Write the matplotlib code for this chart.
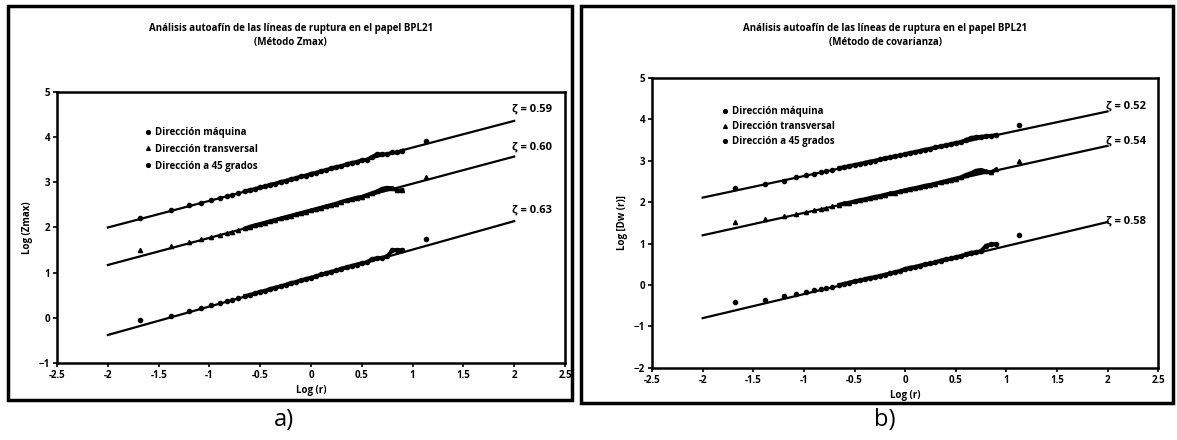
import matplotlib
matplotlib.use("Agg")
import matplotlib.pyplot as plt
from matplotlib.patches import Rectangle

plt.rcParams['font.family'] = ['Open Sans', 'DejaVu Sans']
plt.rcParams['font.weight'] = 'bold'

# valores de log(r) comunes a las dos graficas
log_r = [-1.68, -1.38, -1.20, -1.08, -0.98, -0.90, -0.83, -0.78, -0.72,
         -0.65, -0.60, -0.55, -0.50, -0.45, -0.40, -0.35, -0.30, -0.25,
         -0.20, -0.15, -0.10, -0.05, 0.00, 0.05, 0.10, 0.15, 0.20, 0.25,
         0.30, 0.35, 0.40, 0.45, 0.50, 0.55, 0.60, 0.65, 0.70, 0.75,
         0.80, 0.85, 0.90, 1.13]

# a) metodo Zmax
zmax_maquina = [2.22, 2.38, 2.49, 2.55, 2.61, 2.66, 2.70, 2.72, 2.77,
                2.80, 2.83, 2.85, 2.89, 2.91, 2.95, 2.97, 3.01, 3.03,
                3.07, 3.09, 3.13, 3.15, 3.19, 3.21, 3.25, 3.27, 3.31, 3.34,
                3.36, 3.40, 3.43, 3.45, 3.49, 3.50, 3.56, 3.62, 3.62, 3.62,
                3.66, 3.66, 3.70, 3.92]
zmax_transversal = [1.50, 1.58, 1.67, 1.74, 1.79, 1.84, 1.88, 1.91, 1.94,
                    1.98, 2.02, 2.05, 2.08, 2.11, 2.14, 2.17, 2.20, 2.23,
                    2.26, 2.29, 2.32, 2.35, 2.38, 2.41, 2.44, 2.47, 2.50, 2.53,
                    2.57, 2.60, 2.63, 2.66, 2.68, 2.72, 2.76, 2.80, 2.86, 2.88,
                    2.87, 2.82, 2.83, 3.12]
zmax_45 = [-0.05, 0.05, 0.15, 0.22, 0.28, 0.33, 0.37, 0.40, 0.44,
           0.48, 0.51, 0.54, 0.58, 0.60, 0.64, 0.67, 0.70, 0.73,
           0.77, 0.79, 0.83, 0.86, 0.89, 0.92, 0.96, 0.99, 1.02, 1.05,
           1.09, 1.12, 1.15, 1.18, 1.21, 1.23, 1.30, 1.32, 1.33, 1.36,
           1.50, 1.50, 1.50, 1.75]

# b) metodo de covarianza
cov_maquina = [2.35, 2.45, 2.52, 2.60, 2.65, 2.69, 2.73, 2.75, 2.78,
               2.82, 2.85, 2.87, 2.90, 2.92, 2.95, 2.98, 3.00, 3.03,
               3.06, 3.08, 3.11, 3.13, 3.16, 3.19, 3.21, 3.24, 3.27, 3.29,
               3.32, 3.35, 3.37, 3.40, 3.43, 3.45, 3.50, 3.55, 3.57, 3.58,
               3.59, 3.60, 3.62, 3.86]
cov_transversal = [1.52, 1.60, 1.66, 1.71, 1.76, 1.81, 1.84, 1.87, 1.90,
                   1.94, 1.97, 1.99, 2.02, 2.05, 2.07, 2.10, 2.13, 2.15,
                   2.18, 2.21, 2.23, 2.26, 2.29, 2.32, 2.34, 2.37, 2.40, 2.42,
                   2.45, 2.48, 2.51, 2.54, 2.57, 2.60, 2.66, 2.70, 2.76, 2.78,
                   2.74, 2.72, 2.79, 3.00]
cov_45 = [-0.42, -0.36, -0.26, -0.21, -0.17, -0.13, -0.09, -0.07, -0.04,
          0.00, 0.03, 0.06, 0.09, 0.11, 0.14, 0.17, 0.19, 0.22,
          0.25, 0.28, 0.31, 0.34, 0.39, 0.42, 0.44, 0.47, 0.50, 0.52,
          0.55, 0.59, 0.62, 0.64, 0.67, 0.70, 0.74, 0.78, 0.79, 0.82,
          0.95, 0.98, 0.99, 1.20]

# rectas de ajuste (extremos)
fit_x = [-2.0, 2.0]
zmax_fits = [[2.00, 4.36], [1.17, 3.57], [-0.38, 2.14]]
cov_fits = [[2.11, 4.19], [1.20, 3.36], [-0.80, 1.52]]
zmax_zeta = ["0.59", "0.60", "0.63"]
cov_zeta = ["0.52", "0.54", "0.58"]

serie_names = ["Dirección máquina", "Dirección transversal", "Dirección a 45 grados"]
serie_markers = ["o", "^", "o"]

xticks = [-2.5, -2, -1.5, -1, -0.5, 0, 0.5, 1, 1.5, 2, 2.5]
xtick_labels = ["-2.5", "-2", "-1.5", "-1", "-0.5", "0", "0.5", "1", "1.5", "2", "2.5"]

fig = plt.figure(figsize=(11.77, 4.40), dpi=100)

# marcos de cada panel
fig.patches.append(Rectangle((0.007, 0.092), 0.479, 0.895, transform=fig.transFigure,
                             fill=False, edgecolor="black", linewidth=2.5))
fig.patches.append(Rectangle((0.494, 0.083), 0.503, 0.904, transform=fig.transFigure,
                             fill=False, edgecolor="black", linewidth=2.5))


def panel(rect, series, fits, zetas, ylim, ylabel, zeta_y, legend_pos, spacing):
    ax = fig.add_axes(rect)
    for ys, fy, m, name in zip(series, fits, serie_markers, serie_names):
        ax.plot(fit_x, fy, color="black", linewidth=1.6)
        ax.plot(log_r, ys, linestyle="none", marker=m, markersize=3.0,
                color="black", label=name)
        # zona densa de puntos: se ve como una banda continua
        ax.plot(log_r[9:-1], ys[9:-1], color="black", linewidth=2.8,
                solid_joinstyle="round")
    for z, zy in zip(zetas, zeta_y):
        ax.text(1.98, zy, "ζ = " + z, fontsize=8, fontweight="bold", va="center", ha="left")
    ax.set_xlim(-2.5, 2.5)
    ax.set_ylim(*ylim)
    ax.set_xticks(xticks)
    ax.set_xticklabels(xtick_labels)
    ax.set_yticks(list(range(ylim[0], ylim[1] + 1)))
    ax.tick_params(direction="out", length=3, width=1.2, labelsize=7, pad=2)
    for lab in ax.get_xticklabels() + ax.get_yticklabels():
        lab.set_fontweight("bold")
    for s in ax.spines.values():
        s.set_linewidth(1.8)
    ax.set_xlabel("Log (r)", fontsize=7, fontweight="bold", labelpad=3)
    ax.set_ylabel(ylabel, fontsize=7, fontweight="bold", labelpad=4)
    ax.legend(loc="upper left", bbox_to_anchor=legend_pos, frameon=False, fontsize=7,
              handlelength=0.6, handletextpad=0.5, labelspacing=spacing, markerscale=0.9,
              borderaxespad=0)
    return ax


panel([0.0485, 0.175, 0.4315, 0.616], [zmax_maquina, zmax_transversal, zmax_45],
      zmax_fits, zmax_zeta, (-1, 5), "Log (Zmax)",
      [4.62, 3.78, 2.38], (0.165, 0.885), 0.6)
panel([0.554, 0.164, 0.430, 0.659], [cov_maquina, cov_transversal, cov_45],
      cov_fits, cov_zeta, (-2, 5), "Log [Dw (r)]",
      [4.32, 3.48, 1.55], (0.13, 0.915), 0.4)

titulo = "Análisis autoafín de las líneas de ruptura en el papel BPL21"
fig.text(0.247, 0.935, titulo, ha="center", va="center", fontsize=7, fontweight="bold")
fig.text(0.247, 0.903, "(Método Zmax)", ha="center", va="center", fontsize=7, fontweight="bold")
fig.text(0.752, 0.935, titulo, ha="center", va="center", fontsize=7, fontweight="bold")
fig.text(0.752, 0.903, "(Método de covarianza)", ha="center", va="center", fontsize=7, fontweight="bold")

fig.text(0.241, 0.045, "a)", ha="center", va="center", fontsize=17, fontweight="normal")
fig.text(0.752, 0.045, "b)", ha="center", va="center", fontsize=17, fontweight="normal")

fig.savefig("out.png", dpi=100)
